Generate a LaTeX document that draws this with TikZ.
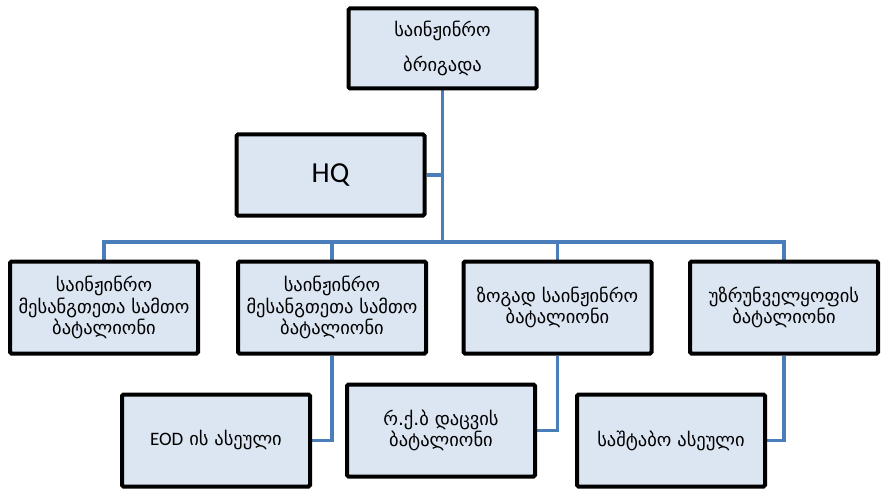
\documentclass[tikz,border=0pt]{standalone}
\usepackage{fontspec}
\setmainfont{DejaVu Sans}
\newfontfamily\latinfont{Carlito}
\usetikzlibrary{backgrounds}
\definecolor{boxfill}{HTML}{DCE6F2}
\definecolor{linkblue}{HTML}{4A7EBB}
\tikzset{
  unit/.style={draw=black, line width=4pt, fill=boxfill, rounded corners=1.5pt,
    minimum width=188pt, minimum height=92pt, inner sep=0pt, align=center,
    font=\fontsize{18.5}{21.5}\selectfont},
  link/.style={draw=linkblue, line width=3.6pt}
}
\begin{document}
\begin{tikzpicture}[x=1pt,y=1pt]
\useasboundingbox (0,0) rectangle (882,-497);

% command level
\node[unit, minimum height=80pt, font=\fontsize{18.5}{35}\selectfont] (brigade) at (442.5,-48.5) {საინჟინრო\\ბრიგადა};
\node[unit, minimum height=81pt, font=\latinfont\fontsize{29}{30}\selectfont] (hq) at (330.5,-175) {HQ};

% battalions
\node[unit] (bat1) at (104,-307.5) {საინჟინრო\\მესანგთეთა სამთო\\ბატალიონი};
\node[unit] (bat2) at (332,-307.5) {საინჟინრო\\მესანგთეთა სამთო\\ბატალიონი};
\node[unit] (bat3) at (557.5,-307.5) {ზოგად საინჟინრო\\ბატალიონი};
\node[unit] (bat4) at (784,-307.5) {უზრუნველყოფის\\ბატალიონი};

% companies
\node[unit] (eod) at (216,-440.5) {{\latinfont\fontsize{19}{21}\selectfont EOD} ის ასეული};
\node[unit] (rkb) at (441,-430.5) {რ.ქ.ბ დაცვის\\ბატალიონი};
\node[unit] (staff) at (671,-440.5) {საშტაბო ასეული};

\coordinate (bus) at (0,-242);

\begin{scope}[on background layer]
  \fill[white] (0,0) rectangle (882,-497);
  \draw[link] (brigade.south) -- (brigade.south |- bus);
  \draw[link] (hq.east) -- (hq.east -| brigade.south);
  \draw[link] (bat1.north) |- (bat4.north |- bus) -- (bat4.north);
  \draw[link] (bat2.north) -- (bat2.north |- bus);
  \draw[link] (bat3.north) -- (bat3.north |- bus);
  \draw[link] (eod.east) -| (bat2.south);
  \draw[link] (rkb.east) -| (bat3.south);
  \draw[link] (staff.east) -| (bat4.south);
\end{scope}
\end{tikzpicture}
\end{document}
